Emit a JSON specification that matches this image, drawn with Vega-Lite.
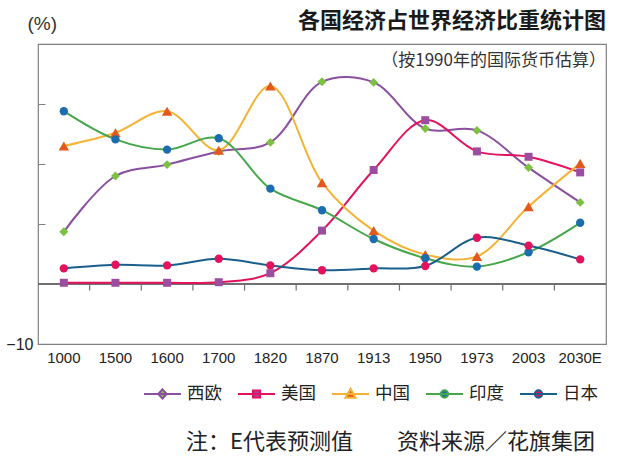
{
  "$schema": "https://vega.github.io/schema/vega-lite/v6.json",
  "autosize": {"type": "none"},
  "width": 568,
  "height": 300,
  "padding": {"left": 38, "top": 44, "right": 34, "bottom": 113},
  "background": "white",
  "title": {
    "text": "各国经济占世界经济比重统计图",
    "subtitle": "（按1990年的国际货币估算）",
    "anchor": "end",
    "frame": "group",
    "font": "Noto Sans CJK SC",
    "fontSize": 22,
    "fontWeight": "bold",
    "color": "#1a1a1a",
    "subtitleFont": "Noto Sans CJK SC",
    "subtitleFontSize": 17,
    "subtitleColor": "#333333",
    "subtitlePadding": 20,
    "offset": -56
  },
  "config": {
    "view": {"stroke": "#808080", "strokeWidth": 1.2},
    "legend": {
      "labelFont": "Noto Sans CJK SC",
      "labelFontSize": 17.5,
      "labelColor": "#222222",
      "labelOffset": 5,
      "columnPadding": 12,
      "symbolStrokeWidth": 2,
      "symbolOpacity": 1,
      "padding": 0
    }
  },
  "data": {
    "values": [
      {"year": "1000", "s": "西欧", "v": 8.7},
      {"year": "1500", "s": "西欧", "v": 18.0},
      {"year": "1600", "s": "西欧", "v": 19.9},
      {"year": "1700", "s": "西欧", "v": 22.1},
      {"year": "1820", "s": "西欧", "v": 23.6},
      {"year": "1870", "s": "西欧", "v": 33.7},
      {"year": "1913", "s": "西欧", "v": 33.6},
      {"year": "1950", "s": "西欧", "v": 25.9},
      {"year": "1973", "s": "西欧", "v": 25.6},
      {"year": "2003", "s": "西欧", "v": 19.4},
      {"year": "2030E", "s": "西欧", "v": 13.6},
      {"year": "1000", "s": "美国", "v": 0.2},
      {"year": "1500", "s": "美国", "v": 0.2},
      {"year": "1600", "s": "美国", "v": 0.2},
      {"year": "1700", "s": "美国", "v": 0.3},
      {"year": "1820", "s": "美国", "v": 1.8},
      {"year": "1870", "s": "美国", "v": 8.9},
      {"year": "1913", "s": "美国", "v": 19.0},
      {"year": "1950", "s": "美国", "v": 27.3},
      {"year": "1973", "s": "美国", "v": 22.1},
      {"year": "2003", "s": "美国", "v": 21.2},
      {"year": "2030E", "s": "美国", "v": 18.6},
      {"year": "1000", "s": "中国", "v": 23.0},
      {"year": "1500", "s": "中国", "v": 25.2},
      {"year": "1600", "s": "中国", "v": 28.8},
      {"year": "1700", "s": "中国", "v": 22.3},
      {"year": "1820", "s": "中国", "v": 33.0},
      {"year": "1870", "s": "中国", "v": 16.9},
      {"year": "1913", "s": "中国", "v": 8.9},
      {"year": "1950", "s": "中国", "v": 4.9},
      {"year": "1973", "s": "中国", "v": 4.6},
      {"year": "2003", "s": "中国", "v": 12.9},
      {"year": "2030E", "s": "中国", "v": 20.1},
      {"year": "1000", "s": "印度", "v": 28.8},
      {"year": "1500", "s": "印度", "v": 24.1},
      {"year": "1600", "s": "印度", "v": 22.4},
      {"year": "1700", "s": "印度", "v": 24.3},
      {"year": "1820", "s": "印度", "v": 15.9},
      {"year": "1870", "s": "印度", "v": 12.3},
      {"year": "1913", "s": "印度", "v": 7.5},
      {"year": "1950", "s": "印度", "v": 4.3},
      {"year": "1973", "s": "印度", "v": 2.9},
      {"year": "2003", "s": "印度", "v": 5.3},
      {"year": "2030E", "s": "印度", "v": 10.2},
      {"year": "1000", "s": "日本", "v": 2.6},
      {"year": "1500", "s": "日本", "v": 3.2},
      {"year": "1600", "s": "日本", "v": 3.1},
      {"year": "1700", "s": "日本", "v": 4.2},
      {"year": "1820", "s": "日本", "v": 3.1},
      {"year": "1870", "s": "日本", "v": 2.3},
      {"year": "1913", "s": "日本", "v": 2.6},
      {"year": "1950", "s": "日本", "v": 3.0},
      {"year": "1973", "s": "日本", "v": 7.7},
      {"year": "2003", "s": "日本", "v": 6.4},
      {"year": "2030E", "s": "日本", "v": 4.1}
    ]
  },
  "encoding": {
    "x": {
      "field": "year",
      "type": "ordinal",
      "sort": ["1000", "1500", "1600", "1700", "1820", "1870", "1913", "1950", "1973", "2003", "2030E"],
      "scale": {"type": "band", "paddingInner": 0, "paddingOuter": 0},
      "bandPosition": 0.5,
      "axis": {
        "orient": "bottom",
        "domain": false,
        "ticks": false,
        "grid": false,
        "labelAngle": 0,
        "labelFont": "Liberation Sans",
        "labelFontSize": 15,
        "labelColor": "#222222",
        "labelPadding": 6,
        "title": "注：E代表预测值　　资料来源／花旗集团",
        "titleFont": "Noto Sans CJK SC",
        "titleFontSize": 22,
        "titleFontWeight": "normal",
        "titleColor": "#222222",
        "titleX": 352,
        "titleY": 97,
        "titleAlign": "center",
        "titleBaseline": "middle"
      }
    },
    "y": {
      "field": "v",
      "type": "quantitative",
      "scale": {"domain": [-10, 40], "nice": false, "zero": false},
      "axis": {
        "values": [-10, 0, 10, 20, 30],
        "domain": false,
        "grid": false,
        "tickSize": -7,
        "tickColor": "#808080",
        "labelExpr": "datum.value === -10 ? '−10' : ''",
        "labelFont": "Liberation Sans",
        "labelFontSize": 16,
        "labelColor": "#222222",
        "labelPadding": 12,
        "title": "(%)",
        "titleAngle": 0,
        "titleAlign": "left",
        "titleBaseline": "middle",
        "titleX": -11,
        "titleY": -21,
        "titleFont": "Liberation Sans",
        "titleFontSize": 19,
        "titleFontWeight": "normal",
        "titleColor": "#333333"
      }
    }
  },
  "layer": [
    {
      "mark": {"type": "point", "filled": true, "strokeWidth": 2, "size": 0, "opacity": 1},
      "encoding": {
        "fill": {
          "field": "s", "type": "nominal",
          "scale": {"domain": ["西欧", "美国", "中国", "印度", "日本"], "range": ["#7cc142", "#9b4ea0", "#e3581d", "#1c6db0", "#e4125c"]},
          "legend": {"title": null, "orient": "none", "legendX": 105, "legendY": 330, "direction": "horizontal", "symbolSize": 1369, "symbolOpacity": 1}
        },
        "stroke": {
          "field": "s", "type": "nominal",
          "scale": {"domain": ["西欧", "美国", "中国", "印度", "日本"], "range": ["#8a4f9e", "#e4125c", "#f5b335", "#46a64a", "#1a5f8c"]},
          "legend": {"title": null, "orient": "none", "legendX": 105, "legendY": 330, "direction": "horizontal", "symbolSize": 1369, "symbolOpacity": 1}
        },
        "shape": {
          "field": "s", "type": "nominal",
          "scale": {"domain": ["西欧", "美国", "中国", "印度", "日本"], "range": [
            "M-1,0L1,0M0,-0.25L0.23,0L0,0.25L-0.23,0Z",
            "M-1,0L1,0M-0.19,-0.19L0.19,-0.19L0.19,0.19L-0.19,0.19Z",
            "M-1,0L1,0M0,-0.28L0.27,0.2L-0.27,0.2Z",
            "M-1,0L1,0M0.2,0A0.2,0.2,0,1,1,-0.2,0A0.2,0.2,0,1,1,0.2,0Z",
            "M-1,0L1,0M0.2,0A0.2,0.2,0,1,1,-0.2,0A0.2,0.2,0,1,1,0.2,0Z"
          ]},
          "legend": {"title": null, "orient": "none", "legendX": 105, "legendY": 330, "direction": "horizontal", "symbolSize": 1369, "symbolOpacity": 1}
        }
      }
    },
    {
      "mark": {"type": "rule", "color": "#707070", "strokeWidth": 1.2},
      "encoding": {"x": null, "y": {"datum": 0}}
    },
    {
      "transform": [{"filter": "datum.s === '西欧' && datum.year !== '2030E'"}],
      "mark": {"type": "rule", "color": "#707070", "strokeWidth": 1.2},
      "encoding": {
        "x": {"field": "year", "type": "ordinal", "bandPosition": 1},
        "y": {"datum": 0},
        "y2": {"datum": -1.1}
      }
    },
    {
      "mark": {"type": "line", "interpolate": "catmull-rom", "strokeWidth": 2},
      "encoding": {
        "stroke": {
          "field": "s",
          "type": "nominal",
          "scale": {"domain": ["西欧", "美国", "中国", "印度", "日本"], "range": ["#8a4f9e", "#e4125c", "#f5b335", "#46a64a", "#1a5f8c"]},
          "legend": null
        }
      }
    },
    {
      "transform": [{"filter": "datum.s === '西欧'"}],
      "mark": {"type": "point", "shape": "diamond", "filled": true, "size": 80, "opacity": 1},
      "encoding": {
        "fill": {"field": "s", "type": "nominal", "scale": {"domain": ["西欧", "美国", "中国", "印度", "日本"], "range": ["#7cc142", "#9b4ea0", "#e3581d", "#1c6db0", "#e4125c"]}, "legend": null}
      }
    },
    {
      "transform": [{"filter": "datum.s === '美国'"}],
      "mark": {"type": "point", "shape": "square", "filled": true, "size": 64, "opacity": 1},
      "encoding": {
        "fill": {"field": "s", "type": "nominal", "scale": {"domain": ["西欧", "美国", "中国", "印度", "日本"], "range": ["#7cc142", "#9b4ea0", "#e3581d", "#1c6db0", "#e4125c"]}, "legend": null}
      }
    },
    {
      "transform": [{"filter": "datum.s === '中国'"}],
      "mark": {"type": "point", "shape": "triangle-up", "filled": true, "size": 110, "opacity": 1},
      "encoding": {
        "fill": {"field": "s", "type": "nominal", "scale": {"domain": ["西欧", "美国", "中国", "印度", "日本"], "range": ["#7cc142", "#9b4ea0", "#e3581d", "#1c6db0", "#e4125c"]}, "legend": null}
      }
    },
    {
      "transform": [{"filter": "datum.s === '印度' || datum.s === '日本'"}],
      "mark": {"type": "point", "shape": "circle", "filled": true, "size": 70, "opacity": 1},
      "encoding": {
        "fill": {"field": "s", "type": "nominal", "scale": {"domain": ["西欧", "美国", "中国", "印度", "日本"], "range": ["#7cc142", "#9b4ea0", "#e3581d", "#1c6db0", "#e4125c"]}, "legend": null}
      }
    }
  ]
}
